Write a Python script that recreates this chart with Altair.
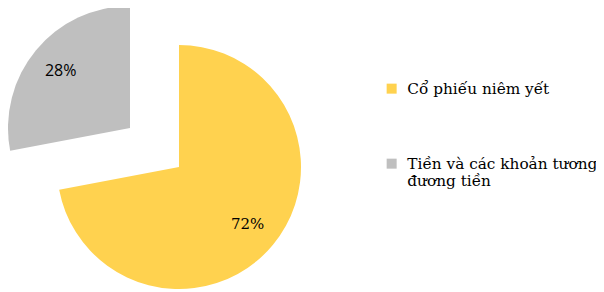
import altair as alt
import pandas as pd
import math

categories = ["Cổ phiếu niêm yết", "Tiền và các khoản tương đương tiền"]
values = [72, 28]
labels = ["72%", "28%"]
colors = ["#FFD24F", "#BFBFBF"]

df = pd.DataFrame({"cat": categories, "value": values, "label": labels, "order": [0, 1]})

theta_scale = alt.Scale(domain=[0, 100], range=[0, 2 * math.pi])
color_enc = alt.Color(
    "cat:N",
    scale=alt.Scale(domain=categories, range=colors),
    legend=alt.Legend(
        title=None,
        orient="none",
        legendX=376,
        legendY=73,
        symbolType="square",
        symbolSize=100,
        symbolStrokeWidth=0,
        labelFont="DejaVu Serif",
        labelFontSize=15.3,
        labelColor="#000000",
        labelLimit=300,
        rowPadding=59,
        labelOffset=8,
        labelExpr="datum.label == 'Tiền và các khoản tương đương tiền' ? ['Tiền và các khoản tương', 'đương tiền'] : datum.label",
    ),
)

base = (
    alt.Chart(df)
    .transform_stack(stack="value", groupby=[], as_=["v0", "v1"], sort=[alt.SortField("order")])
    .transform_calculate(mid="(datum.v0 + datum.v1) / 2")
)

yellow = base.transform_filter(alt.datum.order == 0)
gray = base.transform_filter(alt.datum.order == 1)

cx1, cy1 = 171, 159
cx2, cy2 = 122, 120
R = 122

arc1 = yellow.mark_arc(radius=R).encode(
    theta=alt.Theta("v0:Q", scale=theta_scale), theta2="v1:Q",
    x=alt.value(cx1), y=alt.value(cy1), color=color_enc)
arc2 = gray.mark_arc(radius=R).encode(
    theta=alt.Theta("v0:Q", scale=theta_scale), theta2="v1:Q",
    x=alt.value(cx2), y=alt.value(cy2), color=color_enc)

txt1 = yellow.mark_text(radius=89, font="DejaVu Serif", fontSize=15, color="#000000").encode(
    theta=alt.Theta("mid:Q", scale=theta_scale), text="label:N",
    x=alt.value(cx1), y=alt.value(cy1))
txt2 = gray.mark_text(radius=90, font="Open Sans", fontSize=16, color="#000000").encode(
    theta=alt.Theta("mid:Q", scale=theta_scale), text="label:N",
    x=alt.value(cx2), y=alt.value(cy2))

chart = (
    alt.layer(arc1, arc2, txt1, txt2)
    .properties(width=588, height=284, autosize="none", padding=0)
    .configure_view(stroke=None)
)

chart.save("out.html", embed_options={"renderer": "svg", "actions": False})
